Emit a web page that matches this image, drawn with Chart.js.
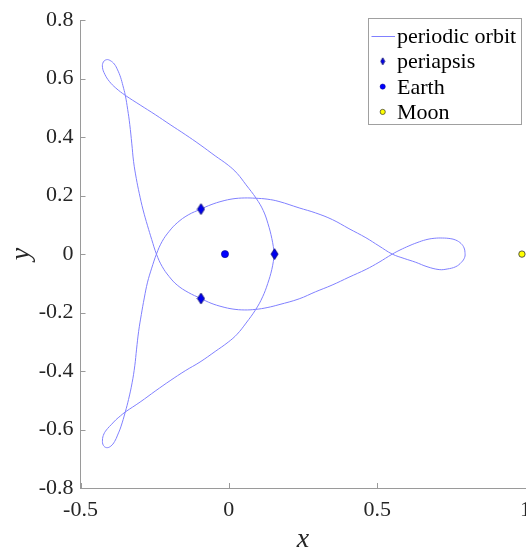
<!DOCTYPE html>
<html><head><meta charset="utf-8">
<script src="https://cdn.jsdelivr.net/npm/chart.js@4/dist/chart.umd.min.js"></script>
<style>
html,body{margin:0;padding:0;overflow:hidden;background:#fff;width:526px;height:552px}
#wrap{position:absolute;left:0;top:0;width:540px;height:552px}
</style>
</head><body><div id="wrap"><canvas id="c" width="540" height="552"></canvas></div>
<script>
// ---- data, traced along the closed orbit ----
const orbitX = [
  // right periapsis -> upper-left crossing
  0.154, 0.145, 0.132, 0.116, 0.092, 0.058, 0.028, -0.002, -0.046, -0.097, -0.147, -0.198, -0.248, -0.299, -0.349,
  // upper-left loop
  -0.381, -0.403, -0.418, -0.426, -0.423, -0.412, -0.400, -0.386, -0.375, -0.365, -0.357,
  // down the left side -> lower periapsis
  -0.349, -0.341, -0.334, -0.327, -0.321, -0.312, -0.302, -0.289, -0.274, -0.260, -0.244, -0.225, -0.201, -0.174, -0.137, -0.094,
  // lower arc -> right crossing
  -0.060, -0.023, 0.014, 0.052, 0.091, 0.129, 0.169, 0.237, 0.292, 0.348, 0.405, 0.463, 0.506, 0.551,
  // right loop
  0.577, 0.607, 0.634, 0.664, 0.692, 0.720, 0.746, 0.765, 0.783, 0.793, 0.796, 0.795, 0.784, 0.765, 0.736, 0.709, 0.668, 0.630, 0.591,
  // upper line -> upper periapsis
  0.551, 0.506, 0.462, 0.405, 0.349, 0.292, 0.237, 0.169, 0.129, 0.091, 0.052, 0.014, -0.023, -0.060, -0.094,
  // upper periapsis -> lower-left crossing
  -0.137, -0.174, -0.201, -0.225, -0.244, -0.260, -0.274, -0.285, -0.295, -0.304, -0.311, -0.317, -0.326, -0.338, -0.349,
  // lower-left loop
  -0.364, -0.375, -0.385, -0.398, -0.412, -0.423, -0.426, -0.421, -0.409, -0.395, -0.381, -0.365,
  // lower-left crossing -> right periapsis
  -0.349, -0.299, -0.246, -0.198, -0.147, -0.097, -0.046, -0.002, 0.028, 0.058, 0.091, 0.114, 0.131, 0.145, 0.154
];
const orbitY = [
  0.000, 0.053, 0.104, 0.149, 0.191, 0.237, 0.276, 0.304, 0.336, 0.374, 0.409, 0.443, 0.477, 0.510, 0.543,
  0.568, 0.591, 0.615, 0.639, 0.657, 0.665, 0.662, 0.650, 0.630, 0.605, 0.576,
  0.543, 0.495, 0.444, 0.377, 0.316, 0.259, 0.208, 0.151, 0.097, 0.050, 0.000, -0.042, -0.077, -0.106, -0.131, -0.152,
  -0.168, -0.180, -0.188, -0.191, -0.189, -0.183, -0.173, -0.153, -0.129, -0.106, -0.079, -0.052, -0.028, 0.000,
  0.014, 0.028, 0.039, 0.049, 0.054, 0.055, 0.053, 0.048, 0.036, 0.021, 0.006, -0.011, -0.028, -0.043, -0.051, -0.053, -0.043, -0.028, -0.015,
  0.000, 0.028, 0.056, 0.087, 0.118, 0.141, 0.158, 0.180, 0.188, 0.191, 0.192, 0.189, 0.181, 0.169, 0.154,
  0.134, 0.107, 0.078, 0.043, 0.000, -0.048, -0.096, -0.150, -0.207, -0.264, -0.325, -0.382, -0.440, -0.497, -0.540,
  -0.591, -0.619, -0.641, -0.657, -0.662, -0.654, -0.636, -0.615, -0.597, -0.582, -0.567, -0.553,
  -0.540, -0.506, -0.467, -0.433, -0.399, -0.369, -0.333, -0.301, -0.274, -0.236, -0.189, -0.146, -0.101, -0.052, 0.000
];
const periapsisX = [0.154, -0.094, -0.094];
const periapsisY = [0.000, 0.154, -0.152];
const earthX = [-0.013];
const earthY = [0];
const moonX = [0.988];
const moonY = [0];
const seriesNames = ['periodic orbit', 'periapsis', 'Earth', 'Moon'];
const xTickValues = [-0.5, 0, 0.5, 1];
const xTickLabels = ['-0.5', '0', '0.5', '1'];
const yTickValues = [-0.8, -0.6, -0.4, -0.2, 0, 0.2, 0.4, 0.6, 0.8];
const yTickLabels = ['-0.8', '-0.6', '-0.4', '-0.2', '0', '0.2', '0.4', '0.6', '0.8'];
const xTitle = 'x';
const yTitle = 'y';

// ---- styles ----
const ORBIT_COLOR = '#8080ff';
const AXIS_COLOR = '#9a9a9a';
const TEXT_COLOR = '#262626';
const SERIF = "'Liberation Serif', 'Times New Roman', serif";

function diamondCanvas(w, h, fill, stroke) {
  const c = document.createElement('canvas');
  c.width = w + 2; c.height = h + 2;
  const g = c.getContext('2d');
  g.beginPath();
  g.moveTo((w + 2) / 2, 1);
  g.lineTo(w + 1, (h + 2) / 2);
  g.lineTo((w + 2) / 2, h + 1);
  g.lineTo(1, (h + 2) / 2);
  g.closePath();
  g.fillStyle = fill; g.fill();
  g.strokeStyle = stroke; g.lineWidth = 0.8; g.stroke();
  return c;
}
const plotDiamond = diamondCanvas(7, 11, '#0000ee', '#000066');
const legendDiamond = diamondCanvas(4, 7, '#0000ee', '#000066');

const pts = (xs, ys) => xs.map((x, i) => ({x: x, y: ys[i]}));

const inwardTicks = {
  id: 'inwardTicks',
  afterDatasetsDraw(chart) {
    const {ctx, chartArea: a, scales: {x, y}} = chart;
    ctx.save();
    ctx.strokeStyle = AXIS_COLOR; ctx.lineWidth = 1;
    ctx.beginPath();
    x.ticks.forEach(t => {
      const px = Math.round(x.getPixelForValue(t.value)) + 0.5;
      ctx.moveTo(px, a.bottom); ctx.lineTo(px, a.bottom - 5);
    });
    y.ticks.forEach(t => {
      const py = Math.round(y.getPixelForValue(t.value)) + 0.5;
      ctx.moveTo(a.left, py); ctx.lineTo(a.left + 5, py);
    });
    ctx.stroke();
    ctx.restore();
  }
};

const boxLegend = {
  id: 'boxLegend',
  afterDraw(chart) {
    const ctx = chart.ctx;
    const bx = 368.5, by = 18.5, bw = 153, bh = 106;
    ctx.save();
    ctx.fillStyle = '#fff';
    ctx.fillRect(bx, by, bw, bh);
    ctx.strokeStyle = '#a0a0a0'; ctx.lineWidth = 1;
    ctx.strokeRect(bx, by, bw, bh);
    const rows = [36, 61.3, 86.6, 111.9];
    const mx = 382.7;
    ctx.strokeStyle = ORBIT_COLOR; ctx.lineWidth = 1;
    ctx.beginPath(); ctx.moveTo(371.5, rows[0] + 0.5); ctx.lineTo(395, rows[0] + 0.5); ctx.stroke();
    ctx.drawImage(legendDiamond, mx - legendDiamond.width / 2, rows[1] - legendDiamond.height / 2);
    ctx.beginPath(); ctx.arc(mx, rows[2], 2.6, 0, Math.PI * 2);
    ctx.fillStyle = '#0000ff'; ctx.fill(); ctx.strokeStyle = '#00008b'; ctx.lineWidth = 0.5; ctx.stroke();
    ctx.beginPath(); ctx.arc(mx, rows[3], 2.6, 0, Math.PI * 2);
    ctx.fillStyle = '#ffff00'; ctx.fill(); ctx.strokeStyle = '#333'; ctx.lineWidth = 0.7; ctx.stroke();
    ctx.fillStyle = '#000';
    ctx.font = "22px " + SERIF;
    ctx.textBaseline = 'alphabetic'; ctx.textAlign = 'left';
    seriesNames.forEach((n, i) => ctx.fillText(n, 397, rows[i] + 7));
    ctx.restore();
  }
};

new Chart(document.getElementById('c'), {
  type: 'scatter',
  data: {
    datasets: [
      { label: seriesNames[0], data: pts(orbitX, orbitY), showLine: true, borderColor: ORBIT_COLOR,
        borderWidth: 1, pointRadius: 0, tension: 0.4, fill: false, order: 10 },
      { label: seriesNames[1], data: pts(periapsisX, periapsisY), pointStyle: plotDiamond,
        pointRadius: 5, order: 2, clip: false },
      { label: seriesNames[2], data: pts(earthX, earthY), pointStyle: 'circle', pointRadius: 3.6,
        backgroundColor: '#0000ff', borderColor: '#00008b', borderWidth: 0.6, order: 1, clip: false },
      { label: seriesNames[3], data: pts(moonX, moonY), pointStyle: 'circle', pointRadius: 3.2,
        backgroundColor: '#ffff00', borderColor: '#333333', borderWidth: 0.8, order: 1, clip: false }
    ]
  },
  options: {
    responsive: false,
    devicePixelRatio: 1,
    animation: false,
    layout: { padding: { top: 15, right: 14, bottom: 0, left: 0 } },
    plugins: { legend: { display: false }, tooltip: { enabled: false } },
    scales: {
      x: {
        type: 'linear', min: -0.5, max: 1,
        afterBuildTicks: s => { s.ticks = xTickValues.map(v => ({value: v})); },
        afterFit: s => { s.height = 64; },
        ticks: { callback: (v, i) => xTickLabels[i], autoSkip: false, maxRotation: 0,
                 font: { family: SERIF, size: 22 }, color: TEXT_COLOR, padding: 9 },
        grid: { drawOnChartArea: false, drawTicks: false },
        border: { color: AXIS_COLOR, width: 1 },
        title: { display: true, text: xTitle, color: TEXT_COLOR,
                 font: { family: SERIF, size: 28, style: 'italic', lineHeight: 0.85 },
                 padding: { top: 0, bottom: 0 } }
      },
      y: {
        type: 'linear', min: -0.8, max: 0.8,
        afterBuildTicks: s => { s.ticks = yTickValues.map(v => ({value: v})); },
        afterFit: s => { s.width = 80.5; },
        ticks: { callback: (v, i) => yTickLabels[i], autoSkip: false,
                 font: { family: SERIF, size: 22 }, color: TEXT_COLOR, padding: 7 },
        grid: { drawOnChartArea: false, drawTicks: false },
        border: { color: AXIS_COLOR, width: 1 },
        title: { display: true, text: yTitle, color: TEXT_COLOR,
                 font: { family: SERIF, size: 28, style: 'italic', lineHeight: 1 },
                 padding: { top: 8, bottom: 0 } }
      }
    }
  },
  plugins: [inwardTicks, boxLegend]
});
</script>
</body></html>
